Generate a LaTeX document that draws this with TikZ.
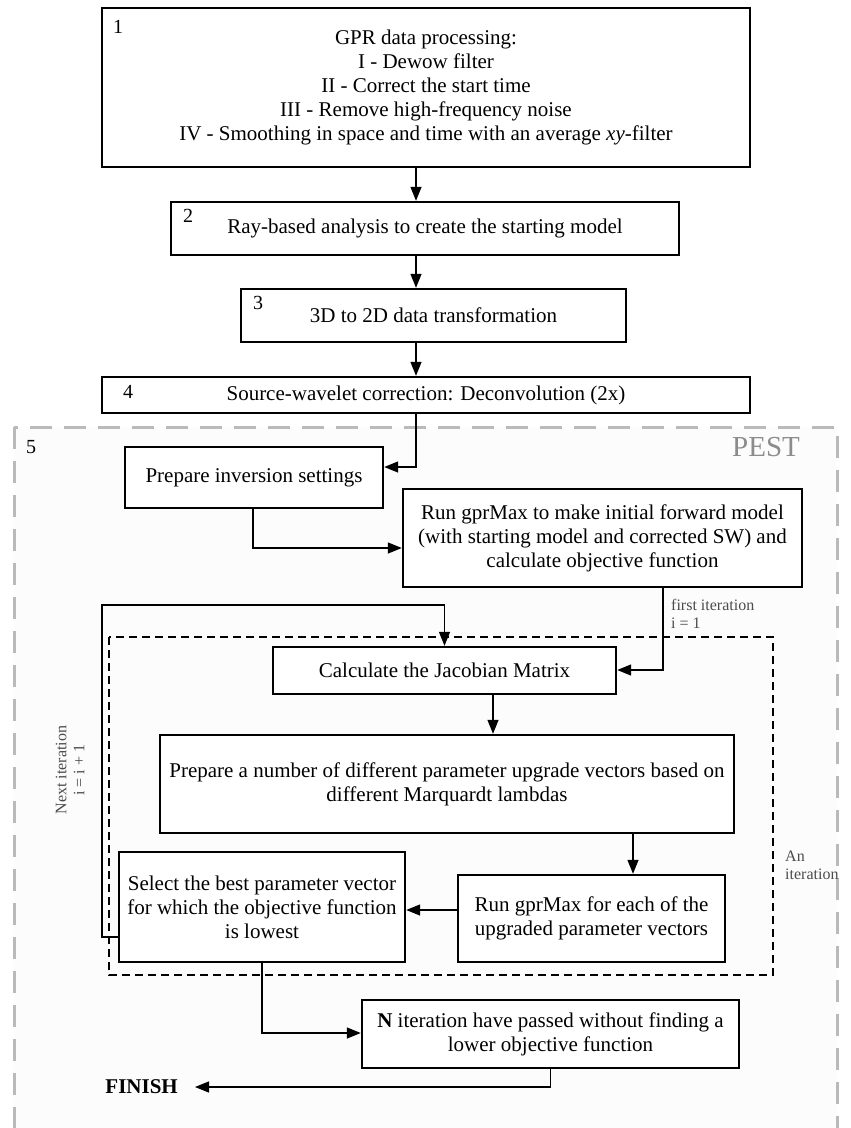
\documentclass[tikz,border=0pt]{standalone}
\usepackage{fontspec}
\setmainfont{Liberation Serif}
\usetikzlibrary{arrows.meta}
\begin{document}
\begin{tikzpicture}[x=1pt,y=-1pt,
	box/.style={draw, line width=2.4pt, fill=white, align=center, inner sep=0pt, font=\fontsize{21}{24}\selectfont},
	line/.style={line width=1.3pt},
	arrow/.style={line width=1.3pt, -{Triangle[length=14pt,width=11pt]}},
	num/.style={inner sep=0pt, font=\fontsize{20}{23}\selectfont},
	note/.style={inner sep=0pt, text=black!70, align=left, font=\fontsize{16}{18}\selectfont}]
		\useasboundingbox (0,0) rectangle (851,1128);
		\clip (0,0) rectangle (851,1128);

		\draw[black!27, fill=black!1, line width=3pt, dash pattern=on 22pt off 12pt] (14,427) rectangle (837,1170);
		\draw[line width=1.5pt, dash pattern=on 8pt off 5pt] (109,637) rectangle (773,975);

		\node[box, minimum width=648pt, minimum height=159pt] (gpr) at (426,87.5) {GPR data processing:\\ I - Dewow filter\\ II - Correct the start time\\ III - Remove high-frequency noise\\ IV - Smoothing in space and time with an average \textit{xy}-filter};
		\node[box, minimum width=508pt, minimum height=53pt] (ray) at (425,228.5) {Ray-based analysis to create the starting model};
		\node[box, minimum width=385pt, minimum height=53pt] (trans) at (433.5,315.5) {3D to 2D data transformation};
		\node[box, minimum width=648pt, minimum height=36pt] (deconv) at (426,395) {Source-wavelet correction: Deconvolution (2x)};

		\node[num] (n1) at (118,27) {1};
		\node[num] (n2) at (188,216) {2};
		\node[num] (n3) at (258,303) {3};
		\node[num] (n4) at (128,392) {4};
		\node[num] (n5) at (31,447) {5};
		\node[inner sep=0pt, text=black!45, font=\fontsize{29}{30}\selectfont] (pest) at (766,447) {PEST};

		\node[box, minimum width=258pt, minimum height=61pt] (settings) at (254,477.5) {Prepare inversion settings};
		\node[box, minimum width=399pt, minimum height=98pt] (initrun) at (602.5,538) {Run gprMax to make initial forward model\\ (with starting model and corrected SW) and\\ calculate objective function};
		\node[box, minimum width=343pt, minimum height=47pt] (jacob) at (444.5,670.5) {Calculate the Jacobian Matrix};
		\node[box, minimum width=574pt, minimum height=98pt] (upgrade) at (447,784) {Prepare a number of different  parameter upgrade vectors based on\\ different  Marquardt lambdas};
		\node[box, minimum width=267pt, minimum height=87pt] (runeach) at (591.5,918.5) {Run gprMax for each of the\\ upgraded parameter vectors};
		\node[box, minimum width=286pt, minimum height=110pt] (select) at (262,907) {Select the best parameter vector\\ for which the objective function\\ is lowest};
		\node[box, minimum width=377pt, minimum height=68pt] (stop) at (550.5,1034) {\textbf{N} iteration have passed without finding a\\ lower objective function};
		\node[anchor=east, inner xsep=17pt, inner ysep=0pt, font=\fontsize{21}{24}\selectfont\bfseries] (finish) at (195,1087) {FINISH};

		\node[note] (first) at (671,614) [anchor=west] {first iteration\\ i = 1};
		\node[note, align=center, rotate=90] (next) at (70,770) {Next iteration\\ i = i + 1};
		\node[note] (aniter) at (785,865) [anchor=west] {An\\ iteration};

		\coordinate (spine) at (416,0);
		\coordinate (c1) at (416,467);
		\coordinate (c2) at (253,548);
		\coordinate (c3) at (663,670);
		\coordinate (loopbot) at (102,937);
		\coordinate (looptop) at (102,605);
		\coordinate (c7) at (493,0);
		\coordinate (c8) at (633,0);
		\coordinate (c9) at (0,910);
		\coordinate (c10) at (0,1033);

		\draw[arrow] (gpr.south -| spine) -- (ray.north -| spine);
		\draw[arrow] (ray.south -| spine) -- (trans.north -| spine);
		\draw[arrow] (trans.south -| spine) -- (deconv.north -| spine);
		\draw[arrow] (deconv.south -| c1) |- (settings.east |- c1);
		\draw[arrow] (settings.south -| c2) |- (initrun.west |- c2);
		\draw[arrow] (initrun.south -| c3) |- (jacob.east |- c3);
		\draw[arrow] (select.west |- loopbot) -- (loopbot) -- (looptop) -| (jacob.north);
		\draw[arrow] (jacob.south -| c7) -- (upgrade.north -| c7);
		\draw[arrow] (upgrade.south -| c8) -- (runeach.north -| c8);
		\draw[arrow] (runeach.west |- c9) -- (select.east |- c9);
		\draw[arrow] (select.south) |- (stop.west |- c10);
		\draw[arrow] (stop.south) |- (finish.east);
	\end{tikzpicture}
\end{document}
